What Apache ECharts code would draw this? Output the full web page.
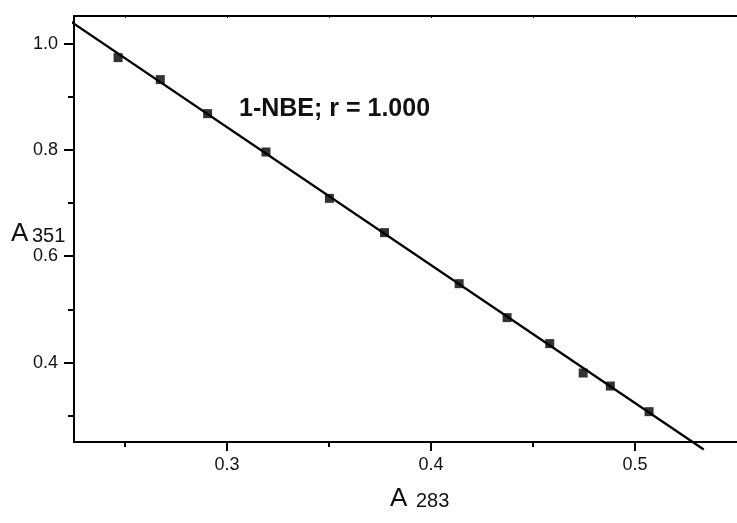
<!DOCTYPE html>
<html>
<head>
<meta charset="utf-8">
<script src="https://cdn.jsdelivr.net/npm/echarts@6/dist/echarts.min.js"></script>
<style>
html,body{margin:0;padding:0;background:#fff;}
#chart{width:737px;height:523px;}
</style>
</head>
<body>
<div id="chart"></div>
<script>
// Measured points (A283, A351)
const xValues = [0.2466, 0.2673, 0.2905, 0.3191, 0.3502, 0.3772, 0.4138, 0.4373, 0.4582, 0.4746, 0.4879, 0.5069];
const yValues = [0.9737, 0.9323, 0.8683, 0.7961, 0.7089, 0.6444, 0.5484, 0.4845, 0.4356, 0.3803, 0.3558, 0.3076];
// Fitted line end points
const fitX = [0.2201, 0.5337];
const fitY = [1.050, 0.2363];
// Ticks
const xMajorTicks = [0.3, 0.4, 0.5];
const xMinorTicks = [0.25, 0.35, 0.45];
const xTopTicks = [0.25, 0.3, 0.35, 0.4, 0.45, 0.5];
const yMajorTicks = [0.4, 0.6, 0.8, 1.0];
const yMinorTicks = [0.3, 0.5, 0.7, 0.9];
const annotation = '1-NBE; r = 1.000';

const FONT = '"Liberation Sans", Arial, sans-serif';
const chart = echarts.init(document.getElementById('chart'), null, {renderer: 'canvas'});

const xRange = {min: 0.225, max: 0.55};
const yRange = {min: 0.2505, max: 1.052};
const black = '#000';

const option = {
  backgroundColor: '#fff',
  animation: false,
  grid: {left: 74, top: 16, width: 668, height: 426, containLabel: false},
  xAxis: [
    {type: 'value', position: 'bottom', ...xRange,
      axisLine: {show: true, onZero: false, lineStyle: {color: black, width: 2}},
      axisTick: {show: true, customValues: xMajorTicks, length: 9, lineStyle: {color: black, width: 2}},
      axisLabel: {show: true, customValues: xMajorTicks, margin: 14, color: '#111', fontSize: 18, fontFamily: FONT,
        formatter: v => v.toFixed(1)},
      splitLine: {show: false}},
    {type: 'value', position: 'bottom', ...xRange,
      axisLine: {show: false},
      axisTick: {show: true, customValues: xMinorTicks, length: 5, lineStyle: {color: black, width: 2}},
      axisLabel: {show: false}, splitLine: {show: false}},
    {type: 'value', position: 'top', ...xRange,
      axisLine: {show: true, onZero: false, lineStyle: {color: black, width: 2}},
      axisTick: {show: true, inside: true, customValues: xTopTicks, length: 2, lineStyle: {color: black, width: 1}},
      axisLabel: {show: false}, splitLine: {show: false}}
  ],
  yAxis: [
    {type: 'value', position: 'left', ...yRange,
      axisLine: {show: true, onZero: false, lineStyle: {color: black, width: 2}},
      axisTick: {show: true, customValues: yMajorTicks, length: 10, lineStyle: {color: black, width: 2}},
      axisLabel: {show: true, customValues: yMajorTicks, margin: 16, color: '#111', fontSize: 18, fontFamily: FONT,
        formatter: v => v.toFixed(1)},
      splitLine: {show: false}},
    {type: 'value', position: 'left', ...yRange,
      axisLine: {show: false},
      axisTick: {show: true, customValues: yMinorTicks, length: 6, lineStyle: {color: black, width: 2}},
      axisLabel: {show: false}, splitLine: {show: false}}
  ],
  series: [
    {type: 'line', xAxisIndex: 0, yAxisIndex: 0, clip: false, symbol: 'none', silent: true,
      data: fitX.map((x, i) => [x, fitY[i]]),
      lineStyle: {color: black, width: 2.3}, z: 3},
    {type: 'scatter', xAxisIndex: 0, yAxisIndex: 0, symbol: 'rect', symbolSize: 9,
      data: xValues.map((x, i) => [x, yValues[i]]),
      itemStyle: {color: black}, z: 4}
  ],
  graphic: [
    {type: 'text', left: 239, top: 97, style: {text: annotation, font: 'bold 25px ' + FONT, fill: '#111'}},
    {type: 'text', left: 11, top: 221, style: {text: 'A', font: '26px ' + FONT, fill: '#111'}},
    {type: 'text', left: 32, top: 226, style: {text: '351', font: '20px ' + FONT, fill: '#111'}},
    {type: 'text', left: 390, top: 486, style: {text: 'A', font: '26px ' + FONT, fill: '#111'}},
    {type: 'text', left: 416, top: 491, style: {text: '283', font: '20px ' + FONT, fill: '#111'}}
  ]
};
chart.setOption(option);
</script>
</body>
</html>
